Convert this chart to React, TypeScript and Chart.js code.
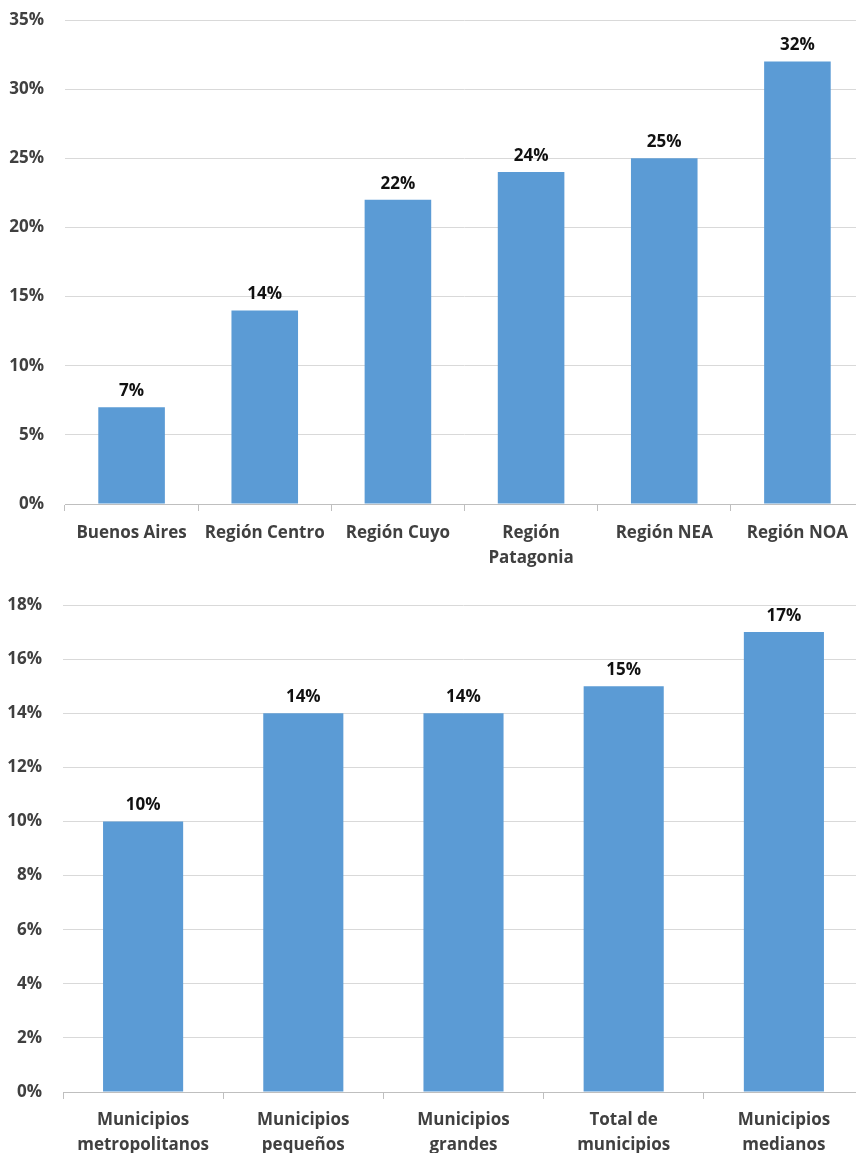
import React, { useEffect, useRef } from "react";
import { Chart, registerables } from "chart.js";

Chart.register(...registerables);

// Regional shares
const regionLabels: (string | string[])[] = [
  "Buenos Aires",
  "Región Centro",
  "Región Cuyo",
  ["Región", "Patagonia"],
  "Región NEA",
  "Región NOA",
];
const regionValues = [7, 14, 22, 24, 25, 32];
const regionTicks = [0, 5, 10, 15, 20, 25, 30, 35];

// Municipality size shares
const muniLabels: (string | string[])[] = [
  ["Municipios", "metropolitanos"],
  ["Municipios", "pequeños"],
  ["Municipios", "grandes"],
  ["Total de", "municipios"],
  ["Municipios", "medianos"],
];
const muniValues = [10, 14, 14, 15, 17];
const muniTicks = [0, 2, 4, 6, 8, 10, 12, 14, 16, 18];

const BAR = "#5B9BD5";
const FONT = "'Open Sans', 'Liberation Sans', sans-serif";
const SIZE = 17;

const valueLabels = {
  id: "valueLabels",
  afterDatasetsDraw(chart: any) {
    const ctx = chart.ctx;
    const meta = chart.getDatasetMeta(0);
    const data = chart.data.datasets[0].data as number[];
    ctx.save();
    ctx.font = `bold ${SIZE}px ${FONT}`;
    ctx.fillStyle = "#111111";
    ctx.textAlign = "center";
    ctx.textBaseline = "alphabetic";
    meta.data.forEach((bar: any, i: number) => {
      ctx.fillText(`${data[i]}%`, bar.x, bar.y - 11);
    });
    ctx.restore();
  },
};

type Cfg = {
  labels: (string | string[])[];
  values: number[];
  ticks: number[];
  height: number;
  padTop: number;
  plotBottom: number;
  axisWidth: number;
  labelPad: number;
};

function BarPanel({ labels, values, ticks, height, padTop, plotBottom, axisWidth, labelPad }: Cfg) {
  const ref = useRef<HTMLCanvasElement>(null);
  useEffect(() => {
    const max = ticks[ticks.length - 1];
    const step = ticks[1] - ticks[0];
    const chart = new Chart(ref.current!, {
      type: "bar",
      data: {
        labels,
        datasets: [
          {
            data: values,
            backgroundColor: BAR,
            barPercentage: 0.5,
            categoryPercentage: 1,
          },
        ],
      },
      options: {
        animation: false,
        responsive: false,
        maintainAspectRatio: false,
        layout: { padding: { top: padTop, right: 2, left: 0, bottom: 0 } },
        plugins: { legend: { display: false }, tooltip: { enabled: false } },
        scales: {
          x: {
            offset: true,
            grid: {
              offset: true,
              drawOnChartArea: false,
              color: "#BFBFBF",
              tickLength: 7,
              lineWidth: 1,
            },
            border: { color: "#BFBFBF" },
            ticks: {
              color: "#404040",
              font: { family: FONT, weight: "bold", size: SIZE, lineHeight: 1.47 },
              padding: labelPad,
              maxRotation: 0,
              autoSkip: false,
            },
            afterFit(scale: any) {
              scale.height = height - plotBottom;
            },
          },
          y: {
            min: 0,
            max,
            afterBuildTicks(scale: any) {
              scale.ticks = ticks.map((v) => ({ value: v }));
            },
            grid: { color: "#D9D9D9", drawTicks: false, tickLength: 0 },
            border: { display: false },
            ticks: {
              stepSize: step,
              color: "#404040",
              font: { family: FONT, weight: "bold", size: SIZE },
              padding: 21,
              callback: (v: any) => `${v}%`,
            },
            afterFit(scale: any) {
              scale.width = axisWidth;
              scale.paddingTop = 0;
              scale.paddingBottom = 0;
            },
          },
        },
      },
      plugins: [valueLabels],
    });
    return () => chart.destroy();
  }, []);
  return <canvas ref={ref} width={866} height={height} style={{ display: "block", width: 866, height }} />;
}

export default function App() {
  return (
    <div
      style={{
        position: "absolute",
        left: 0,
        top: 0,
        width: 856,
        height: 1153,
        overflow: "hidden",
        background: "#ffffff",
      }}
    >
      <BarPanel
        labels={regionLabels}
        values={regionValues}
        ticks={regionTicks}
        height={580}
        padTop={20}
        plotBottom={504}
        axisWidth={65}
        labelPad={10}
      />
      <BarPanel
        labels={muniLabels}
        values={muniValues}
        ticks={muniTicks}
        height={573}
        padTop={25}
        plotBottom={1092 - 580}
        axisWidth={63}
        labelPad={9}
      />
    </div>
  );
}
